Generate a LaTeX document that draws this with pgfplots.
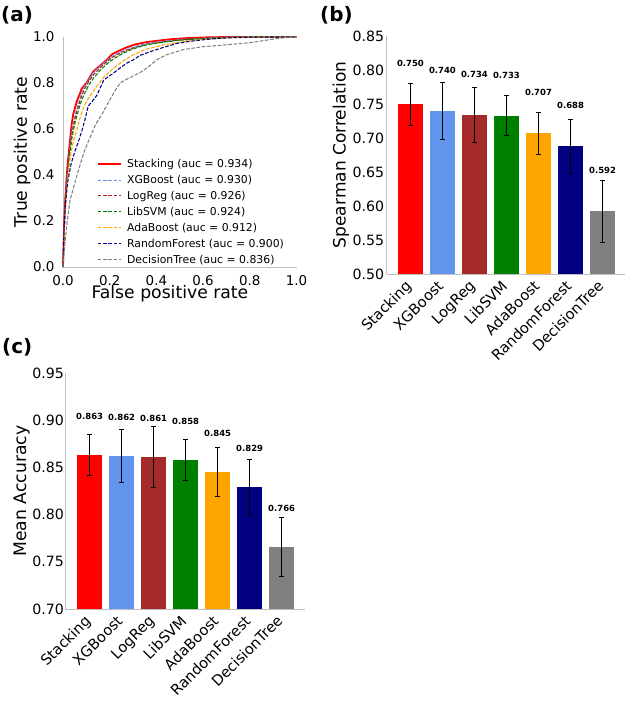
\documentclass[border=0pt]{standalone}
\usepackage{pgfplots}
\pgfplotsset{compat=1.18}
\usepackage{fontspec}
\setmainfont{DejaVu Sans}
\definecolor{cStack}{RGB}{255,0,0}
\definecolor{cXGB}{RGB}{100,149,237}
\definecolor{cLR}{RGB}{165,42,42}
\definecolor{cSVM}{RGB}{0,128,0}
\definecolor{cAda}{RGB}{255,165,0}
\definecolor{cRF}{RGB}{0,0,128}
\definecolor{cDT}{RGB}{128,128,128}
\definecolor{spine}{RGB}{190,190,190}
\pgfplotsset{
  mybase/.style={
    scale only axis,
    axis x line*=bottom, axis y line*=left,
    axis line style={spine, line width=0.8bp},
    major tick length=0pt,
    /pgf/number format/assume math mode=true,
  },
  roccurve/.style={no marks, line width=1.05bp, dash pattern=on 3.7bp off 1.6bp},
  mybars/.style={
    mybase,
    xtick={0,1,2,3,4,5,6},
    xticklabels={Stacking,XGBoost,LogReg,LibSVM,AdaBoost,RandomForest,DecisionTree},
    xticklabel style={rotate=45, anchor=north east, xshift=-4.5bp, yshift=4bp, font=\fontsize{14.7}{16}\selectfont},
    yticklabel style={font=\fontsize{14.2}{16}\selectfont},
    /pgf/number format/.cd, fixed, fixed zerofill, precision=2, assume math mode=true,
  },
  onebar/.style={ybar, bar width=0.8, bar shift=0pt, fill=#1, draw=none,
    error bars/.cd, y dir=both, y explicit,
    error bar style={black, line width=0.8bp},
    error mark options={black, rotate=90, mark size=2.6bp, line width=0.8bp}},
}
\begin{document}
\begin{tikzpicture}
\useasboundingbox (0bp,0bp) rectangle (632bp,702bp);
% panel labels
\node[anchor=west, font=\fontsize{20}{22}\selectfont\bfseries, inner sep=0pt] at (1bp,687bp) {(a)};
\node[anchor=west, font=\fontsize{20}{22}\selectfont\bfseries, inner sep=0pt] at (320bp,687bp) {(b)};
\node[anchor=west, font=\fontsize{20}{22}\selectfont\bfseries, inner sep=0pt] at (2bp,355bp) {(c)};

% ---------------- (a) ROC ----------------
\begin{axis}[mybase,
  at={(63bp,435bp)}, anchor=south west,
  width=233.5bp, height=230bp,
  xmin=0, xmax=1, ymin=0, ymax=1, clip=false,
  xtick={0,0.2,0.4,0.6,0.8,1}, ytick={0,0.2,0.4,0.6,0.8,1},
  ticklabel style={font=\fontsize{13.5}{16}\selectfont},
  xticklabel style={yshift=-5bp}, yticklabel style={xshift=-5bp},
  /pgf/number format/.cd, fixed, fixed zerofill, precision=1, assume math mode=true,
  /pgfplots/.cd,
  xlabel={False positive rate}, ylabel={True positive rate},
  label style={font=\fontsize{17.3}{20}\selectfont},
  xlabel style={at={(axis description cs:0.458,0)}, anchor=center, yshift=-27bp},
  ylabel style={at={(axis description cs:0,0.5)}, anchor=center, yshift=41bp},
  legend style={at={(axis description cs:0.144,0.478)}, anchor=north west, draw=none, fill=none,
    font=\fontsize{10.9}{12}\selectfont, row sep=2.2bp, inner sep=0pt},
  /tikz/every odd column/.append style={column sep=3.5bp},
  legend cell align=left,
  legend image code/.code={\draw[#1] (0bp,0bp) -- (23bp,0bp);},
]
\addplot[cStack, no marks, line width=1.8bp] coordinates {
(0,0)(0.003,0.12)(0.006,0.22)(0.01,0.30)(0.015,0.38)(0.02,0.45)(0.03,0.55)(0.037,0.62)(0.044,0.665)
(0.059,0.72)(0.073,0.755)(0.08,0.775)(0.10,0.80)(0.116,0.827)(0.13,0.85)(0.158,0.875)(0.187,0.90)
(0.21,0.925)(0.24,0.94)(0.273,0.955)(0.31,0.968)(0.358,0.978)(0.40,0.983)(0.458,0.99)(0.53,0.995)
(0.6,0.998)(0.7,1)(1,1)};
\addlegendentry{Stacking (auc = 0.934)}
\addplot[cXGB, roccurve] coordinates {
(0,0)(0.003,0.11)(0.006,0.2)(0.01,0.29)(0.015,0.37)(0.02,0.43)(0.03,0.53)(0.04,0.60)(0.05,0.65)
(0.06,0.69)(0.075,0.74)(0.09,0.78)(0.11,0.815)(0.13,0.845)(0.155,0.87)(0.185,0.895)(0.21,0.915)
(0.24,0.932)(0.28,0.948)(0.32,0.962)(0.36,0.972)(0.42,0.98)(0.5,0.988)(0.6,0.995)(0.7,0.999)(0.8,1)(1,1)};
\addlegendentry{XGBoost (auc = 0.930)}
\addplot[cLR, roccurve] coordinates {
(0,0)(0.003,0.10)(0.006,0.19)(0.01,0.28)(0.015,0.36)(0.02,0.42)(0.03,0.52)(0.04,0.59)(0.05,0.64)
(0.06,0.68)(0.075,0.73)(0.09,0.77)(0.11,0.805)(0.13,0.835)(0.155,0.862)(0.185,0.89)(0.21,0.91)
(0.24,0.928)(0.28,0.945)(0.32,0.958)(0.36,0.969)(0.42,0.978)(0.5,0.987)(0.6,0.994)(0.7,0.998)(0.8,1)(1,1)};
\addlegendentry{LogReg (auc = 0.926)}
\addplot[cSVM, roccurve] coordinates {
(0,0)(0.003,0.10)(0.006,0.18)(0.01,0.27)(0.015,0.35)(0.02,0.41)(0.03,0.50)(0.04,0.57)(0.05,0.62)
(0.06,0.66)(0.075,0.71)(0.09,0.75)(0.11,0.79)(0.13,0.82)(0.155,0.85)(0.185,0.88)(0.21,0.90)
(0.24,0.92)(0.28,0.94)(0.32,0.955)(0.36,0.966)(0.42,0.976)(0.5,0.986)(0.6,0.993)(0.7,0.998)(0.8,1)(1,1)};
\addlegendentry{LibSVM (auc = 0.924)}
\addplot[cAda, roccurve] coordinates {
(0,0)(0.003,0.09)(0.006,0.17)(0.01,0.25)(0.015,0.33)(0.02,0.39)(0.03,0.47)(0.04,0.53)(0.05,0.565)
(0.06,0.60)(0.075,0.655)(0.09,0.70)(0.11,0.735)(0.13,0.765)(0.155,0.80)(0.175,0.825)(0.2,0.85)
(0.23,0.875)(0.26,0.898)(0.3,0.922)(0.35,0.945)(0.42,0.963)(0.5,0.978)(0.6,0.99)(0.7,0.996)(0.8,0.999)(0.9,1)(1,1)};
\addlegendentry{AdaBoost (auc = 0.912)}
\addplot[cRF, roccurve] coordinates {
(0,0)(0.004,0.15)(0.01,0.27)(0.02,0.37)(0.035,0.45)(0.05,0.50)(0.066,0.545)(0.08,0.59)(0.094,0.64)
(0.108,0.70)(0.125,0.72)(0.144,0.745)(0.16,0.78)(0.173,0.81)(0.19,0.825)(0.215,0.842)(0.245,0.866)
(0.273,0.886)(0.30,0.90)(0.33,0.92)(0.37,0.935)(0.415,0.95)(0.487,0.972)(0.55,0.982)(0.62,0.99)
(0.7,0.996)(0.8,0.999)(0.9,1)(1,1)};
\addlegendentry{RandomForest (auc = 0.900)}
\addplot[cDT, roccurve] coordinates {
(0,0)(0.008,0.1)(0.018,0.2)(0.03,0.29)(0.044,0.34)(0.06,0.40)(0.073,0.443)(0.09,0.50)(0.11,0.55)
(0.14,0.62)(0.17,0.67)(0.2,0.726)(0.225,0.77)(0.245,0.80)(0.27,0.815)(0.30,0.83)(0.33,0.845)
(0.37,0.873)(0.40,0.90)(0.444,0.923)(0.515,0.945)(0.6,0.958)(0.7,0.966)(0.8,0.975)(0.87,0.986)
(0.93,0.995)(1,1)};
\addlegendentry{DecisionTree (auc = 0.836)}
\end{axis}

% ---------------- (b) Spearman ----------------
\begin{axis}[mybars,
  at={(386.7bp,428bp)}, anchor=south west,
  width=238.3bp, height=238bp,
  xmin=-0.74, xmax=6.70, ymin=0.5, ymax=0.85,
  ytick={0.50,0.55,0.60,0.65,0.70,0.75,0.80,0.85},
  yticklabel style={xshift=1bp},
  ylabel={Spearman Correlation},
  ylabel style={font=\fontsize{17.1}{20}\selectfont, at={(axis description cs:0,0.5)}, anchor=center, yshift=45.7bp},
  nodes near coords,
  every node near coord/.append style={font=\fontsize{8.5}{10}\selectfont\bfseries, text=black,
    anchor=center, inner sep=0pt, yshift=40.6bp,
    /pgf/number format/.cd, fixed, fixed zerofill, precision=3},
]
\addplot[onebar=cStack] coordinates {(0,0.750) +- (0,0.031)};
\addplot[onebar=cXGB] coordinates {(1,0.740) +- (0,0.042)};
\addplot[onebar=cLR] coordinates {(2,0.734) +- (0,0.041)};
\addplot[onebar=cSVM] coordinates {(3,0.733) +- (0,0.029)};
\addplot[onebar=cAda] coordinates {(4,0.707) +- (0,0.031)};
\addplot[onebar=cRF] coordinates {(5,0.688) +- (0,0.040)};
\addplot[onebar=cDT] coordinates {(6,0.592) +- (0,0.046)};
\end{axis}

% ---------------- (c) Mean accuracy ----------------
\begin{axis}[mybars,
  at={(65bp,93bp)}, anchor=south west,
  width=240bp, height=236bp,
  xmin=-0.77, xmax=6.73, ymin=0.7, ymax=0.95,
  ytick={0.70,0.75,0.80,0.85,0.90,0.95},
  yticklabel style={xshift=2.5bp},
  ylabel={Mean Accuracy},
  ylabel style={font=\fontsize{17.3}{20}\selectfont, at={(axis description cs:0,0.5)}, anchor=center, yshift=43.3bp},
  nodes near coords,
  every node near coord/.append style={font=\fontsize{8.5}{10}\selectfont\bfseries, text=black,
    anchor=center, inner sep=0pt, yshift=38.7bp,
    /pgf/number format/.cd, fixed, fixed zerofill, precision=3},
]
\addplot[onebar=cStack] coordinates {(0,0.863) +- (0,0.022)};
\addplot[onebar=cXGB] coordinates {(1,0.862) +- (0,0.028)};
\addplot[onebar=cLR] coordinates {(2,0.861) +- (0,0.032)};
\addplot[onebar=cSVM] coordinates {(3,0.858) +- (0,0.022)};
\addplot[onebar=cAda] coordinates {(4,0.845) +- (0,0.026)};
\addplot[onebar=cRF] coordinates {(5,0.829) +- (0,0.030)};
\addplot[onebar=cDT] coordinates {(6,0.766) +- (0,0.031)};
\end{axis}
\end{tikzpicture}
\end{document}
